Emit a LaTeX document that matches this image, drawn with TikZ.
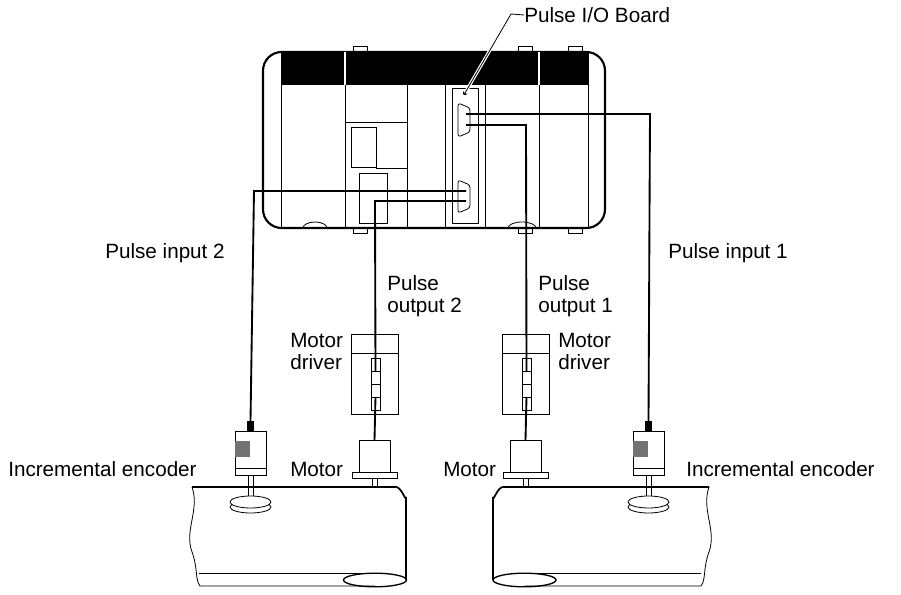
\documentclass[tikz,border=0pt]{standalone}
\usepackage{fontspec}
\setmainfont{Liberation Sans}
\usetikzlibrary{positioning}
\tikzset{
  lbl/.style={font=\fontsize{15.5}{16.5}\selectfont, align=left, inner sep=0pt},
  wire/.style={line width=1.4pt},
  thin/.style={line width=0.6pt},
}
\begin{document}
\begin{tikzpicture}[x=0.75pt,y=0.75pt,yscale=-1,xscale=1]
\useasboundingbox (0,0) rectangle (901,595);

%PLC body
\draw [line width=1.6pt, rounded corners=14pt] (263,52) rectangle (605,228);
\fill (281,52) rectangle (588,85);
\draw [white, line width=1pt] (345,52) -- (345,85) (539,52) -- (539,85);
\draw [thin] (281,52) -- (281,228) (588,52) -- (588,228);
\foreach \xx in {345,407,445,485,539}
  \draw [thin] (\xx,85) -- (\xx,228);
%tabs and feet
\foreach \xx in {353,518,568}{
  \draw [thin] (\xx,46) rectangle ++(14,6);
  \draw [thin] (\xx,228) rectangle ++(14,5);
}
\draw [thin] (303,228) arc (180:0:12 and -6);
\draw [thin] (508,228) arc (180:0:14 and -6);
%CPU modules
\draw [thin] (345,122) -- (407,122) -- (407,168) -- (376,168);
\draw [thin] (351,127) rectangle (376,167);
\draw [thin] (359,173) rectangle (387,223);
%Pulse I/O board
\draw [thin] (452,88) rectangle (478,223);
\draw [thin, rounded corners=2pt] (458,103) -- (470,108) -- (470,132) -- (458,137) -- cycle;
\draw [thin, rounded corners=2pt] (458,180) -- (470,185) -- (470,208) -- (458,213) -- cycle;
\fill (465,93) circle (2.2);
\coordinate (boardDot) at (465,93);
\coordinate (boardBend) at (511,14);
\node [lbl, anchor=west] (board) at (524,15) {Pulse I/O Board};
\draw [white, line width=2.4pt] (boardDot) -- (boardBend);
\draw [thin] (boardDot) -- (boardBend) -- (board.west);

%motor drivers
\foreach \dx/\nm in {351/drvL,502/drvR}{
  \draw [thin] (\dx,334) rectangle ++(47,80);
  \draw [thin] (\dx,353) -- ++(47,0);
  \draw [thin] (\dx+20,358) rectangle ++(9,52);
  \foreach \yy in {371,384,397} \draw [thin] (\dx+20,\yy) -- ++(9,0);
  \coordinate (\nm top) at (\dx+24.5,371);
  \coordinate (\nm bot) at (\dx+24.5,397);
}
%motors
\foreach \mx/\nm in {359/motL,510/motR}{
  \draw [thin] (\mx,440) rectangle ++(31,32);
  \draw [thin] (\mx-7,472) rectangle ++(45,6);
  \draw [thin] (\mx+13,478) rectangle ++(5,9);
  \coordinate (\nm) at (\mx+15.5,440);
}
%encoders
\foreach \ex/\nm in {235/encL,633/encR}{
  \draw [thin] (\ex,431) rectangle ++(31,44);
  \draw [thin] (\ex,468) -- ++(31,0);
  \fill [black!55] (\ex,441) rectangle ++(15,16);
  \fill (\ex+12,421) rectangle ++(7,10);
  \draw [thin] (\ex+13,475) rectangle ++(5,22);
  \draw [thin, fill=white] (\ex+15.5,507) ellipse (20.5 and 6);
  \draw [thin, fill=white] (\ex+15.5,502) ellipse (20.5 and 6);
  \coordinate (\nm) at (\ex+15.5,421);
}

%conveyors
\draw [line width=1.3pt] (192,487) -- (396,487) to[out=0,in=90] (406,497) -- (406,580);
\draw [thin] (192,487) .. controls (200,510) and (184,530) .. (192,552) .. controls (198,568) and (195,580) .. (200,586) -- (375,586);
\draw [thin] (199,573) -- (375,573);
\draw [line width=1pt] (375,580) ellipse (31.5 and 6.8);
\draw [line width=1.3pt] (709,487) -- (503,487) to[out=180,in=90] (493,497) -- (493,580);
\draw [thin] (709,487) .. controls (701,510) and (717,530) .. (709,552) .. controls (703,568) and (706,580) .. (701,586) -- (524.5,586);
\draw [thin] (701,573) -- (524.5,573);
\draw [line width=1pt] (524.5,580) ellipse (31.5 and 6.8);

%cables
\coordinate (outTop1) at (466,114);
\coordinate (outTop2) at (466,125);
\coordinate (outBot1) at (466,191);
\coordinate (outBot2) at (466,201);
\draw [wire] (outTop1) -- (650,114) -- (encR);
\draw [wire] (outTop2) -- (526,125) -- (drvRtop);
\draw [wire] (outBot1) -- (254,191) -- (encL);
\draw [wire] (outBot2) -- (375,201) -- (drvLtop);
\draw [wire] (drvLbot) -- (motL);
\draw [wire] (drvRbot) -- (motR);

%labels
\node [lbl, anchor=west] (pin2) at (105,253) {Pulse input 2};
\node [lbl, anchor=west] (pin1) at (668,253) {Pulse input 1};
\node [lbl, anchor=west] (pout2) at (387,296) {Pulse\\output 2};
\node [lbl, anchor=west] (pout1) at (538,296) {Pulse\\output 1};
\node [lbl, anchor=west] (drvLlbl) at (290,351) {Motor\\driver};
\node [lbl, anchor=west] (drvRlbl) at (558,351) {Motor\\driver};
\node [lbl, anchor=west] (encLlbl) at (8,469) {Incremental encoder};
\node [lbl, anchor=west] (motLlbl) at (290,469) {Motor};
\node [lbl, anchor=west] (motRlbl) at (443,469) {Motor};
\node [lbl, anchor=west] (encRlbl) at (686,469) {Incremental encoder};
\end{tikzpicture}
\end{document}
